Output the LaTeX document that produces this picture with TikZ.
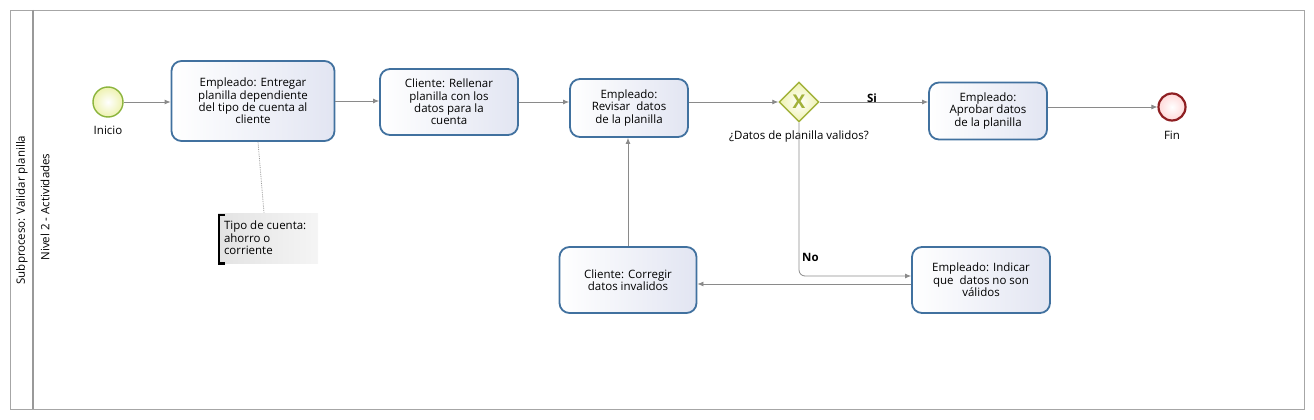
\documentclass[tikz,border=0pt]{standalone}
\usepackage{fontspec}
\setmainfont{Open Sans}
\usetikzlibrary{arrows.meta,shapes.geometric,calc}
\definecolor{flow}{HTML}{8A8A8A}
\definecolor{taskblue}{HTML}{41719F}
\definecolor{taskfill}{HTML}{E2E5F2}
\definecolor{gwline}{HTML}{A2B23A}
\definecolor{gwfill}{HTML}{EEF2B0}
\definecolor{startline}{HTML}{8BB43C}
\definecolor{endline}{HTML}{8E1F22}
\begin{document}
\begin{tikzpicture}[x=1pt,y=-1pt,
  font=\fontsize{11.5}{12.4}\selectfont,
  task/.style={draw=taskblue, line width=1.8pt, rounded corners=10pt,
    left color=white, right color=taskfill, align=center, inner sep=0pt},
  flowline/.style={draw=flow, line width=0.8pt, -{Latex[length=6pt,width=5pt]}},
  lbl/.style={inner sep=1pt}
]
\useasboundingbox (0,0) rectangle (1314,420);
% pool frame
\draw[draw=gray!70, line width=0.9pt] (10,10) rectangle (1304,409);
\draw[draw=gray!80, line width=1.6pt] (33,10) -- (33,409);
\node[rotate=90, lbl] (pool) at (22,210) {Subproceso: Validar planilla};
\node[rotate=90, lbl] (lane) at (45,207) {Nivel 2 - Actividades};

% events
\node[circle, draw=startline, line width=1.4pt, inner color=white, outer color=gwfill, minimum size=30pt, inner sep=0pt] (start) at (108,102) {};
\node[lbl] (startl) at (108,130) {Inicio};
\node[circle, draw=endline, line width=2.2pt, inner color=white, outer color=red!15, minimum size=27pt, inner sep=0pt] (fin) at (1172,107) {};
\node[lbl] (finl) at (1172,135) {Fin};

% tasks
\node[task, minimum width=163pt, minimum height=80pt] (t1) at (253,101)
  {Empleado: Entregar\\planilla dependiente\\del tipo de cuenta al\\cliente};
\node[task, minimum width=138pt, minimum height=66pt] (t2) at (449,102)
  {Cliente: Rellenar\\planilla con los\\datos para la\\cuenta};
\node[task, minimum width=118pt, minimum height=58pt] (t3) at (629,108)
  {Empleado:\\Revisar\ \ datos\\de la planilla};
\node[task, minimum width=118pt, minimum height=57pt] (t4) at (988,111)
  {Empleado:\\Aprobar datos\\de la planilla};
\node[task, minimum width=137pt, minimum height=66pt] (t5) at (628,280)
  {Cliente: Corregir\\datos invalidos};
\node[task, minimum width=138pt, minimum height=66pt] (t6) at (981,280)
  {Empleado: Indicar\\que\ \ datos no son\\válidos};

% gateway
\node[diamond, aspect=1, draw=gwline, line width=1.4pt, inner color=white, outer color=gwfill,
  minimum width=40pt, minimum height=40pt, inner sep=0pt,
  font=\fontsize{19}{19}\selectfont\bfseries, text=gwline] (gw) at (799,102) {X};
\node[lbl] (gwl) at (799,137) {¿Datos de planilla validos?};

% annotation
\node[left color=gray!22, right color=gray!8, minimum width=100pt, minimum height=50pt, inner sep=0pt] (ann) at (268,238) {};
\draw[line width=2.6pt, black] ($(ann.north west)+(7,2)$) -- ($(ann.north west)+(1.3,2)$) -- ($(ann.south west)+(1.3,0)$) -- ($(ann.south west)+(7,0)$);
\node[lbl, anchor=west, align=left, font=\fontsize{11.5}{12.5}\selectfont] (annt) at ($(ann.west)+(5,0)$) {Tipo de cuenta:\\ahorro o\\corriente};
\draw[densely dotted, draw=gray!80, line width=0.8pt] ($(t1.south)+(5,0)$) -- ($(ann.north)+(-4,0)$);

% flows
\draw[flowline] (start.east) -- (start.east -| t1.west);
\draw[flowline] (t1.east) -- (t1.east -| t2.west);
\draw[flowline] (t2.east) -- (t2.east -| t3.west);
\draw[flowline] (t3.east |- gw.west) -- (gw.west);
\draw[flowline] (gw.east) -- (gw.east -| t4.west);
\node[lbl, font=\fontsize{11.5}{12}\selectfont\bfseries] (si) at (872,98) {Si};
\draw[flowline] (t4.east |- fin.west) -- (fin.west);
\draw[flowline, rounded corners=6pt] (gw.south) |- ($(t6.west)+(0,-4)$);
\node[lbl, anchor=west, font=\fontsize{11.5}{12}\selectfont\bfseries] (no) at (801,257) {No};
\draw[flowline] ($(t6.west)+(0,4)$) -- ($(t5.east)+(0,4)$);
\draw[flowline] (t5.north) -- (t5.north |- t3.south);
\end{tikzpicture}
\end{document}
